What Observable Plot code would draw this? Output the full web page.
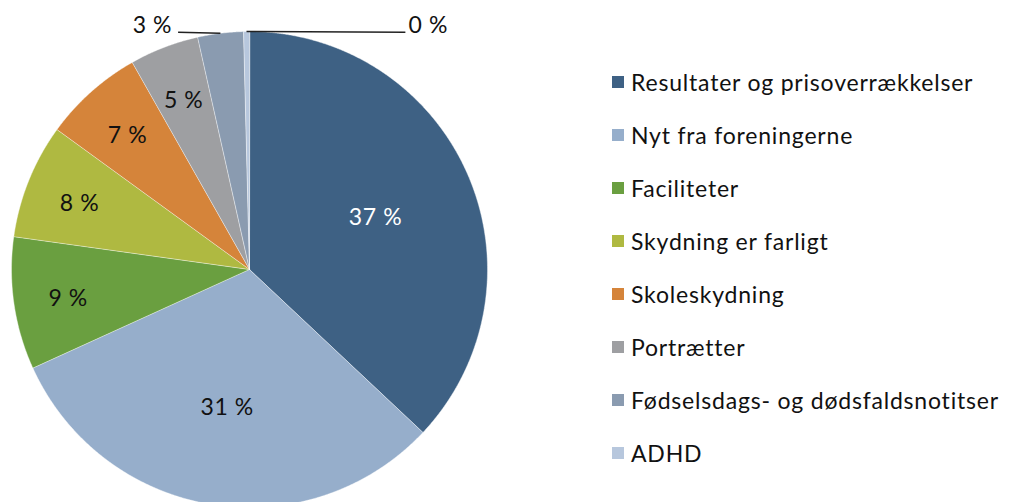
<!DOCTYPE html>
<html>
<head>
<meta charset="utf-8">
<script src="https://cdn.jsdelivr.net/npm/d3@7"></script>
<script src="https://cdn.jsdelivr.net/npm/@observablehq/plot@0.6"></script>
<style>
  body { margin: 0; background: #fff; }
  #wrap { position: relative; width: 1013px; height: 502px; overflow: hidden; font-family: Lato, "Open Sans", sans-serif; }
  #legend { position: absolute; left: 0; top: 0; }
  .row { position: absolute; left: 612px; height: 30px; display: flex; align-items: center; white-space: nowrap; }
  .sw { width: 12px; height: 12px; margin-right: 7px; }
  .lab { font-size: 23px; letter-spacing: 0.8px; line-height: 30px; color: #111; }
</style>
</head>
<body>
<div id="wrap"><div id="legend"></div></div>
<script>
const categories = [
  "Resultater og prisoverrækkelser",
  "Nyt fra foreningerne",
  "Faciliteter",
  "Skydning er farligt",
  "Skoleskydning",
  "Portrætter",
  "Fødselsdags- og dødsfaldsnotitser",
  "ADHD"
];
const shares = [37.0, 31.2, 9.0, 7.8, 6.8, 4.7, 3.1, 0.4];
const labels = ["37 %", "31 %", "9 %", "8 %", "7 %", "5 %", "3 %", "0 %"];
const colors = ["#3e6184", "#96aecb", "#6a9f40", "#afb941", "#d5843a", "#9e9fa2", "#8a9bb0", "#b7c7dd"];
const labelColors = ["#ffffff", "#111111", "#111111", "#111111", "#111111", "#111111", "#111111", "#111111"];

// Build slice polygons (clockwise from 12 o'clock)
const poly = [];
const mids = [];
let cum = 0;
shares.forEach((v, i) => {
  const a0 = cum / 100 * 2 * Math.PI;
  cum += v;
  const a1 = cum / 100 * 2 * Math.PI;
  const name = categories[i];
  poly.push({name, x: 0, y: 0});
  const n = Math.max(2, Math.ceil((a1 - a0) / (Math.PI / 720)));
  for (let k = 0; k <= n; k++) {
    const a = a0 + (a1 - a0) * k / n;
    poly.push({name, x: Math.sin(a), y: Math.cos(a)});
  }
  mids.push((a0 + a1) / 2);
});

// Labels
const outside = {6: {lineX: -0.30, textX: -0.325, anchor: "end"}, 7: {lineX: 0.655, textX: 0.668, anchor: "start"}};
const inLabels = [];
const outLabels = [];
const leaders = [];
shares.forEach((v, i) => {
  const a = mids[i];
  if (outside[i]) {
    const o = outside[i];
    outLabels.push({text: labels[i], x: o.textX, y: 1.025, anchor: o.anchor});
    leaders.push({x1: Math.sin(a), y1: Math.cos(a), x2: o.lineX, y2: 0.997});
  } else {
    const r = v > 20 ? 0.577 : 0.77;
    inLabels.push({text: labels[i], x: r * Math.sin(a), y: r * Math.cos(a) - 0.01, fill: labelColors[i]});
  }
});

const chart = Plot.plot({
  width: 1013,
  height: 502,
  margin: 0,
  x: {domain: [-1, 1], range: [11, 487], axis: null},
  y: {domain: [-1, 1], range: [507, 31], axis: null},
  color: {domain: categories, range: colors},
  style: {fontFamily: "Lato, 'Open Sans', sans-serif", background: "transparent", letterSpacing: "0.6px"},
  marks: [
    Plot.line(poly, {x: "x", y: "y", z: "name", fill: "name", stroke: "white", strokeWidth: 0.6, strokeOpacity: 0.7, curve: "linear-closed"}),
    Plot.text(inLabels, {x: "x", y: "y", text: "text", fill: "fill", fontSize: 23}),
    Plot.link(leaders, {x1: "x1", y1: "y1", x2: "x2", y2: "y2", stroke: "#222", strokeWidth: 1.6}),
    Plot.text(outLabels.filter(d => d.anchor === "end"), {x: "x", y: "y", text: "text", textAnchor: "end", fill: "#111", fontSize: 23}),
    Plot.text(outLabels.filter(d => d.anchor === "start"), {x: "x", y: "y", text: "text", textAnchor: "start", fill: "#111", fontSize: 23})
  ]
});
const wrap = document.getElementById("wrap");
wrap.insertBefore(chart, wrap.firstChild);

const legend = document.getElementById("legend");
categories.forEach((c, i) => {
  const row = document.createElement("div");
  row.className = "row";
  row.style.top = (82 + i * 53 - 15) + "px";
  const sw = document.createElement("div");
  sw.className = "sw";
  sw.style.background = colors[i];
  const lab = document.createElement("span");
  lab.className = "lab";
  lab.textContent = c;
  row.appendChild(sw);
  row.appendChild(lab);
  legend.appendChild(row);
});
</script>
</body>
</html>
